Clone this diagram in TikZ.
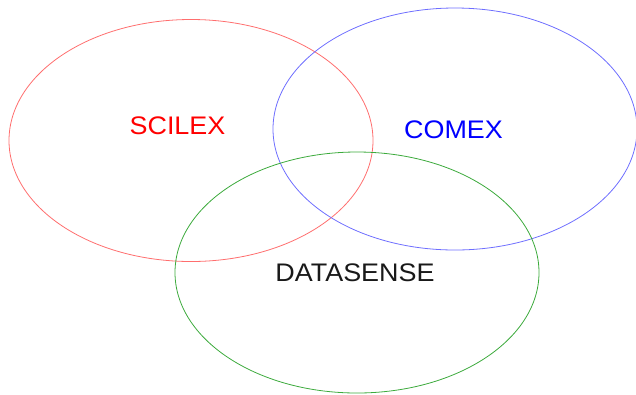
\documentclass[tikz,border=0pt]{standalone}
\usepackage{fontspec}
\setmainfont{Liberation Sans}
\usetikzlibrary{shapes.geometric}
\definecolor{cred}{RGB}{255,110,110}
\definecolor{cblue}{RGB}{110,110,255}
\definecolor{cgreen}{RGB}{60,170,60}
\newcommand{\widetext}[1]{\scalebox{1.06}[1]{#1}}
\begin{document}
\begin{tikzpicture}[x=1bp,y=-1bp,
  setring/.style={draw, line width=0.8bp, ellipse, minimum width=364bp, minimum height=242bp, inner sep=0pt},
  setlabel/.style={font=\fontsize{25.5}{28}\selectfont, inner sep=0pt}]
\useasboundingbox (0,0) rectangle (636,394);
\node[setring, draw=cred] (scilex) at (191,140.5) {};
\node[setring, draw=cblue, minimum height=242bp] (comex) at (455,129) {};
\node[setring, draw=cgreen, minimum height=241bp] (datasense) at (357,272.5) {};
\node[setlabel, text=red] (l1) at (177.5,125.3) {\widetext{SCILEX}};
\node[setlabel, text=blue] (l2) at (453.5,130) {\widetext{COMEX}};
\node[setlabel, text=black!90] (l3) at (355,272.5) {\widetext{DATASENSE}};
\end{tikzpicture}
\end{document}
